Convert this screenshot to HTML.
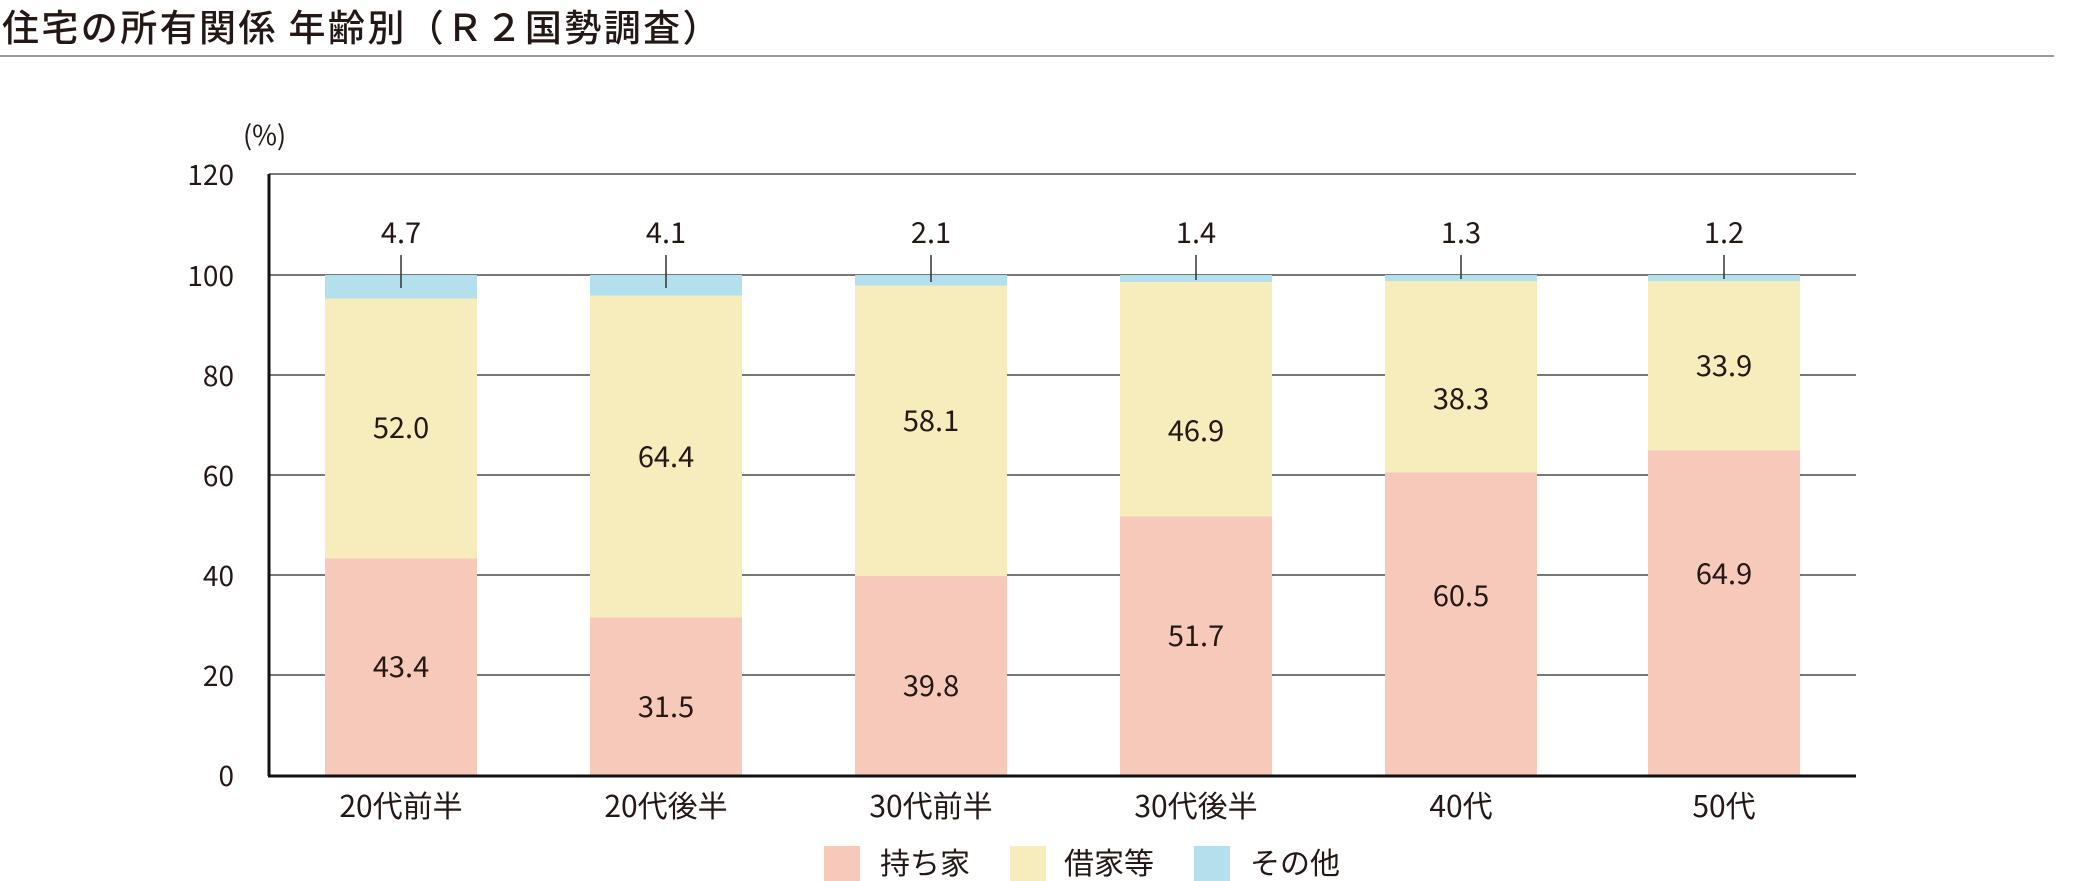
<!DOCTYPE html>
<html><head><meta charset="utf-8"><style>
html,body{margin:0;padding:0;background:#fff;}
svg{display:block;font-family:"Noto Sans CJK JP",sans-serif;}
</style></head><body>
<svg width="2080" height="881" viewBox="0 0 2080 881" xmlns="http://www.w3.org/2000/svg">
<text x="2" y="41" font-size="37" letter-spacing="2.4" fill="#231815" font-weight="500">住宅の所有関係 年齢別（Ｒ２国勢調査）</text>
<line x1="0" y1="56" x2="2054" y2="56" stroke="#9a9a9a" stroke-width="2"/>
<g stroke="#777" stroke-width="2">
<line x1="269" y1="174" x2="1856" y2="174"/>
<line x1="269" y1="275" x2="1856" y2="275"/>
<line x1="269" y1="375" x2="1856" y2="375"/>
<line x1="269" y1="475" x2="1856" y2="475"/>
<line x1="269" y1="575" x2="1856" y2="575"/>
<line x1="269" y1="675" x2="1856" y2="675"/>
</g>
<g font-size="28" fill="#231815" text-anchor="end">
<text x="234" y="185">120</text><text x="234" y="286">100</text><text x="234" y="386">80</text>
<text x="234" y="486">60</text><text x="234" y="586">40</text><text x="234" y="686">20</text><text x="234" y="786">0</text>
</g>
<text x="243" y="145" font-size="27" fill="#231815">(%)</text>
<g>
<rect x="325" y="558" width="152" height="217" fill="#f7c9bb"/>
<rect x="325" y="298.5" width="152" height="260" fill="#f7ecbc"/>
<rect x="325" y="275" width="152" height="23.5" fill="#b3e0ec"/>
<rect x="590" y="617.5" width="152" height="157.5" fill="#f7c9bb"/>
<rect x="590" y="295.5" width="152" height="322" fill="#f7ecbc"/>
<rect x="590" y="275" width="152" height="20.5" fill="#b3e0ec"/>
<rect x="855" y="576" width="152" height="199" fill="#f7c9bb"/>
<rect x="855" y="285.5" width="152" height="290.5" fill="#f7ecbc"/>
<rect x="855" y="275" width="152" height="10.5" fill="#b3e0ec"/>
<rect x="1120" y="516.5" width="152" height="258.5" fill="#f7c9bb"/>
<rect x="1120" y="282" width="152" height="234.5" fill="#f7ecbc"/>
<rect x="1120" y="275" width="152" height="7" fill="#b3e0ec"/>
<rect x="1385" y="472.5" width="152" height="302.5" fill="#f7c9bb"/>
<rect x="1385" y="281" width="152" height="191.5" fill="#f7ecbc"/>
<rect x="1385" y="275" width="152" height="6" fill="#b3e0ec"/>
<rect x="1648" y="450.5" width="152" height="324.5" fill="#f7c9bb"/>
<rect x="1648" y="281" width="152" height="169.5" fill="#f7ecbc"/>
<rect x="1648" y="275" width="152" height="6" fill="#b3e0ec"/>
</g>
<line x1="269" y1="174" x2="269" y2="776" stroke="#111" stroke-width="3"/>
<line x1="268" y1="776" x2="1856" y2="776" stroke="#111" stroke-width="3"/>
<g stroke="#333" stroke-width="1.5">
<line x1="401" y1="255" x2="401" y2="288"/><line x1="666" y1="255" x2="666" y2="288"/>
<line x1="931" y1="255" x2="931" y2="282"/><line x1="1196" y1="255" x2="1196" y2="280"/>
<line x1="1461" y1="255" x2="1461" y2="279"/><line x1="1724" y1="255" x2="1724" y2="279"/>
</g>
<g font-size="29" fill="#231815" text-anchor="middle">
<text x="401" y="243">4.7</text><text x="666" y="243">4.1</text><text x="931" y="243">2.1</text>
<text x="1196" y="243">1.4</text><text x="1461" y="243">1.3</text><text x="1724" y="243">1.2</text>
<text x="401" y="438">52.0</text><text x="666" y="467">64.4</text><text x="931" y="431">58.1</text>
<text x="1196" y="441">46.9</text><text x="1461" y="409">38.3</text><text x="1724" y="376">33.9</text>
<text x="401" y="677">43.4</text><text x="666" y="717">31.5</text><text x="931" y="696">39.8</text>
<text x="1196" y="646">51.7</text><text x="1461" y="606">60.5</text><text x="1724" y="584">64.9</text>
</g>
<g font-size="30" fill="#231815" text-anchor="middle">
<text x="401" y="817">20代前半</text><text x="666" y="817">20代後半</text><text x="931" y="817">30代前半</text>
<text x="1196" y="817">30代後半</text><text x="1461" y="817">40代</text><text x="1724" y="817">50代</text>
</g>
<rect x="824" y="846" width="36" height="35" fill="#f7c9bb"/>
<rect x="1010" y="846" width="36" height="35" fill="#f7ecbc"/>
<rect x="1194" y="846" width="36" height="35" fill="#b3e0ec"/>
<g font-size="30" fill="#231815">
<text x="880" y="874">持ち家</text><text x="1064" y="874">借家等</text><text x="1250" y="874">その他</text>
</g>
</svg>
</body></html>
